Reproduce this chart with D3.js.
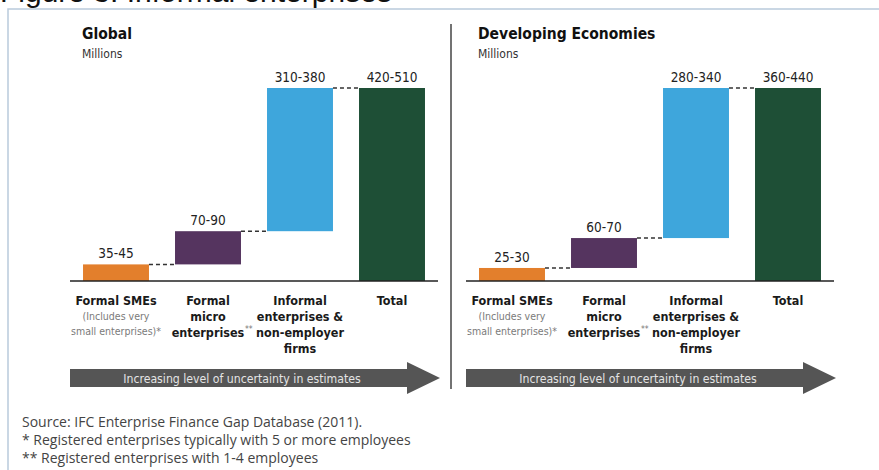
<!DOCTYPE html>
<html>
<head>
<meta charset="utf-8">
<script src="https://cdn.jsdelivr.net/npm/d3@7"></script>
<style>
  body { margin: 0; background: #fff; }
  svg { display: block; }
</style>
</head>
<body>
<svg id="chart" width="879" height="470"></svg>
<script>
// data
var categories = ["smes", "micro", "informal", "total"];
var panelTitles = ["Global", "Developing Economies"];
var globalValues = [40, 80, 345];
var globalTotal = 465;
var globalLabels = ["35-45", "70-90", "310-380", "420-510"];
var devValues = [27, 62, 311];
var devTotal = 400;
var devLabels = ["25-30", "60-70", "280-340", "360-440"];
var barColors = ["#e37f2c", "#55345f", "#3ea6dc", "#1e4f36"];
var catLines = [
  ["Formal SMEs"],
  ["Formal", "micro", "enterprises"],
  ["Informal", "enterprises &", "non-employer", "firms"],
  ["Total"]
];
var footnotes = [
  "Source: IFC Enterprise Finance Gap Database (2011).",
  "* Registered enterprises typically with 5 or more employees",
  "** Registered enterprises with 1-4 employees"
];

var svg = d3.select("#chart");
var cond = "'DejaVu Sans Condensed', sans-serif";

// cut off figure title + frame
svg.append("text")
    .text("Figure 3: Informal enterprises")
    .attr("x", 0).attr("y", 2)
    .attr("font-family", "Liberation Sans, Arial, sans-serif")
    .attr("font-size", 30)
    .attr("fill", "#111");
svg.append("path")
    .attr("d", "M8,470 L8,9 L879,9")
    .attr("fill", "none")
    .attr("stroke", "#b9cadb")
    .attr("stroke-width", 1.5);

// divider
svg.append("line")
    .attr("x1", 451).attr("x2", 451)
    .attr("y1", 24).attr("y2", 389)
    .attr("stroke", "#444").attr("stroke-width", 1.5);

function drawPanel(dx, title, values, total, labels) {
    var g = svg.append("g").attr("transform", "translate(" + dx + ",0)");

    var x = d3.scaleBand().domain(categories)
        .range([70, 438]).paddingInner(0.283).paddingOuter(0.1415);
    var y = d3.scaleLinear().domain([0, total]).range([281, 88]);

    g.append("text").text(title)
        .attr("x", 82).attr("y", 39)
        .attr("font-family", cond).attr("font-weight", "bold")
        .attr("font-size", 15.5).attr("fill", "#111");
    g.append("text").text("Millions")
        .attr("x", 82).attr("y", 58)
        .attr("font-family", cond)
        .attr("font-size", 12).attr("fill", "#333");

    // waterfall rows
    var rows = [];
    var cum = 0;
    values.forEach(function(v, i) {
        rows.push({cat: categories[i], lo: cum, hi: cum + v, label: labels[i], color: barColors[i]});
        cum += v;
    });
    rows.push({cat: "total", lo: 0, hi: total, label: labels[3], color: barColors[3]});

    g.selectAll("rect.bar").data(rows).enter().append("rect")
        .attr("class", "bar")
        .attr("x", function(d) { return x(d.cat); })
        .attr("width", x.bandwidth())
        .attr("y", function(d) { return y(d.hi); })
        .attr("height", function(d) { return y(d.lo) - y(d.hi); })
        .attr("fill", function(d) { return d.color; });

    // connectors
    g.selectAll("line.conn").data(rows.slice(0, 3)).enter().append("line")
        .attr("class", "conn")
        .attr("x1", function(d) { return x(d.cat) + x.bandwidth(); })
        .attr("x2", function(d, i) { return x(categories[i + 1]); })
        .attr("y1", function(d) { return y(d.hi); })
        .attr("y2", function(d) { return y(d.hi); })
        .attr("stroke", "#333").attr("stroke-width", 1.5)
        .attr("stroke-dasharray", "4,3");

    g.selectAll("text.val").data(rows).enter().append("text")
        .attr("class", "val")
        .text(function(d) { return d.label; })
        .attr("x", function(d) { return x(d.cat) + x.bandwidth() / 2; })
        .attr("y", function(d) { return y(d.hi) - 6; })
        .attr("text-anchor", "middle")
        .attr("font-family", cond).attr("font-size", 13.5).attr("fill", "#222");

    // baseline
    g.append("line")
        .attr("x1", 70).attr("x2", 438)
        .attr("y1", 281).attr("y2", 281)
        .attr("stroke", "#222").attr("stroke-width", 1.5);

    // category labels
    categories.forEach(function(c, i) {
        var cx = x(c) + x.bandwidth() / 2;
        var t = g.append("text")
            .attr("x", cx).attr("y", 305)
            .attr("text-anchor", "middle")
            .attr("font-family", cond).attr("font-weight", "bold")
            .attr("font-size", 12.5).attr("fill", "#1a1a1a");
        catLines[i].forEach(function(line, j) {
            t.append("tspan")
                .attr("x", cx)
                .attr("dy", j === 0 ? 0 : 16)
                .text(line);
        });
        if (i === 1) {
            g.append("text").text("**")
                .attr("x", cx + 37).attr("y", 332)
                .attr("font-family", cond).attr("font-size", 8.5)
                .attr("fill", "#777");
        }
    });
    var noteX = x("smes") + x.bandwidth() / 2;
    g.append("text")
        .attr("x", noteX).attr("y", 320)
        .attr("text-anchor", "middle")
        .attr("font-family", cond).attr("font-size", 10.5).attr("fill", "#7a7a7a")
        .text("(Includes very");
    g.append("text")
        .attr("x", noteX).attr("y", 335)
        .attr("text-anchor", "middle")
        .attr("font-family", cond).attr("font-size", 10.5).attr("fill", "#7a7a7a")
        .text("small enterprises)*");

    // arrow
    g.append("path")
        .attr("d", "M70,369 L407,369 L407,362 L440,378 L407,394 L407,387 L70,387 Z")
        .attr("fill", "#555");
    g.append("text")
        .text("Increasing level of uncertainty in estimates")
        .attr("x", 242).attr("y", 382.5)
        .attr("text-anchor", "middle")
        .attr("font-family", cond).attr("font-size", 12.2).attr("fill", "#e4e4e4");
}

drawPanel(0, panelTitles[0], globalValues, globalTotal, globalLabels);
drawPanel(396, panelTitles[1], devValues, devTotal, devLabels);

// footnotes
svg.selectAll("text.foot").data(footnotes).enter().append("text")
    .attr("class", "foot")
    .text(function(d) { return d; })
    .attr("x", 22)
    .attr("y", function(d, i) { return 427 + i * 18; })
    .attr("font-family", "'Open Sans', 'Noto Sans', sans-serif")
    .attr("font-size", 14).attr("fill", "#444");
</script>
</body>
</html>
